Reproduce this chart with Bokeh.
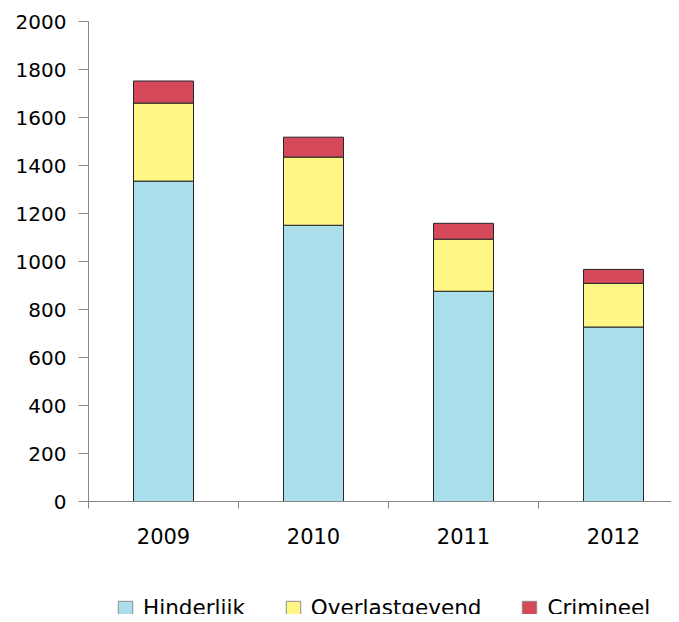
from bokeh.plotting import figure
from bokeh.layouts import column
from bokeh.models import Range1d, FixedTicker, Legend, LegendItem, ColumnDataSource
from bokeh.embed import file_html
from bokeh.resources import INLINE

years = ["2009", "2010", "2011", "2012"]
hinderlijk = [1335, 1151, 876, 727]
overlastgevend = [325, 284, 217, 182]
crimineel = [92, 83, 66, 58]
series = ["Hinderlijk", "Overlastgevend", "Crimineel"]
colors = ["#A9DEEA", "#FFF685", "#D6495B"]
y_ticks = [0, 200, 400, 600, 800, 1000, 1200, 1400, 1600, 1800, 2000]

xpos = [i + 0.5 for i in range(len(years))]
src = ColumnDataSource(dict(x=xpos, Hinderlijk=hinderlijk,
                            Overlastgevend=overlastgevend, Crimineel=crimineel))

FONT = "DejaVu Sans"
AXIS = "#868686"

p = figure(width=671, height=590, x_range=Range1d(0, 583 / 150), y_range=Range1d(0, 2000),
           output_backend="svg", toolbar_location=None,
           min_border_left=88, min_border_right=0, min_border_top=21, min_border_bottom=89)
p.outline_line_color = None
p.grid.visible = False

rs = p.vbar_stack(series, x="x", width=0.4, source=src, fill_color=colors,
                  line_color="#262626", line_width=1)

# y axis
ya = p.yaxis[0]
ya.ticker = FixedTicker(ticks=y_ticks)
ya.axis_line_color = AXIS
ya.major_tick_line_color = AXIS
ya.major_tick_out = 10
ya.major_tick_in = 0
ya.minor_tick_line_color = None
ya.major_label_standoff = 12
ya.major_label_text_font = FONT
ya.major_label_text_font_size = "20px"
ya.major_label_text_color = "#000000"

# x axis
xa = p.xaxis[0]
xa.ticker = FixedTicker(ticks=xpos, minor_ticks=[0, 1, 2, 3, 4])
xa.major_label_overrides = {v: y for v, y in zip(xpos, years)}
xa.axis_line_color = AXIS
xa.major_tick_line_color = None
xa.major_tick_out = 0
xa.major_tick_in = 0
xa.minor_tick_line_color = AXIS
xa.minor_tick_out = 7
xa.minor_tick_in = 0
xa.major_label_standoff = 19
xa.major_label_text_font = FONT
xa.major_label_text_font_size = "21px"
xa.major_label_text_color = "#000000"

# legend strip below the chart
lg = figure(width=671, height=24, x_range=Range1d(0, 1), y_range=Range1d(0, 1),
            output_backend="svg", toolbar_location=None,
            min_border_left=0, min_border_right=0, min_border_top=0, min_border_bottom=0)
lg.axis.visible = False
lg.grid.visible = False
lg.outline_line_color = None
offscreen = ColumnDataSource(dict(x=[-50], top=[-50], bottom=[-60]))
keys = [lg.vbar(x="x", top="top", bottom="bottom", width=0.1, source=offscreen,
                fill_color=c, line_color="#8C8C8C", line_width=1) for c in colors]

legend = Legend(items=[LegendItem(label=s, renderers=[r]) for s, r in zip(series, keys)],
                orientation="horizontal", location=(28, -6),
                label_text_font=FONT, label_text_font_size="21.5px",
                label_text_color="#000000",
                glyph_width=18, glyph_height=18, label_standoff=9, spacing=39,
                padding=0, margin=0, border_line_color=None, background_fill_alpha=0)
lg.add_layout(legend, "center")

page = column(p, lg, spacing=0)
open("out.html", "w").write(file_html(page, INLINE))
